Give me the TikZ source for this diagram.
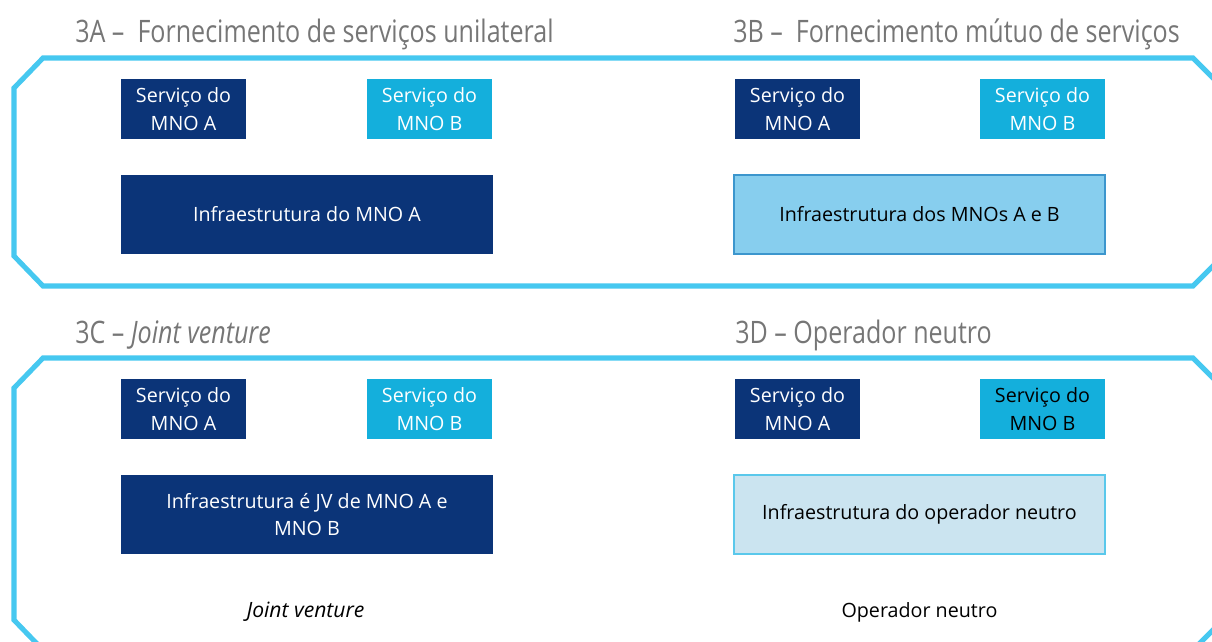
\documentclass[tikz,border=0pt]{standalone}
\usepackage{fontspec}
\setmainfont{Open Sans}
\newfontfamily\titlefont[FakeStretch=0.81]{Open Sans}
\usetikzlibrary{positioning}
\definecolor{mnoNavy}{RGB}{11,52,120}
\definecolor{mnoCyan}{RGB}{20,175,220}
\definecolor{frameBlue}{RGB}{70,200,240}
\definecolor{infraMid}{RGB}{135,206,238}
\definecolor{infraMidLine}{RGB}{60,150,205}
\definecolor{infraPale}{RGB}{203,228,240}
\definecolor{infraPaleLine}{RGB}{90,200,235}
\definecolor{titleGray}{RGB}{118,118,118}

\begin{document}
\begin{tikzpicture}[x=0.025cm, y=-0.025cm]
      \tikzstyle{every node} = [inner sep=0pt, font=\fontsize{14}{19.8}\selectfont];
      \tikzstyle{svc} = [minimum width=3.125cm, minimum height=1.5cm, align=center];
      \tikzstyle{svcA} = [svc, fill=mnoNavy, text=white];
      \tikzstyle{svcB} = [svc, fill=mnoCyan, text=white];
      \tikzstyle{infra} = [minimum width=9.275cm, minimum height=1.975cm, align=center];
      \tikzstyle{panel} = [draw=frameBlue, line width=3.6pt, line join=miter];
      \tikzstyle{heading} = [anchor=base west, text=titleGray, font=\titlefont\fontsize{22}{26}\selectfont];
      \useasboundingbox (0,0) rectangle (1212,641);
      \clip (0,0) rectangle (1212,641);
      \draw[panel] (43,58) -- (1193,58) -- (1223,88) -- (1223,256) -- (1193,286)
        -- (43,286) -- (14,256) -- (14,88) -- cycle;
      \draw[panel] (43,358) -- (1193,358) -- (1223,388) -- (1223,620) -- (1193,650)
        -- (43,650) -- (14,620) -- (14,388) -- cycle;
      \node[heading] (h3A) at (75,42) {3A –\ \ Fornecimento de serviços unilateral};
      \node[heading] (h3B) at (733,42) {3B –\ \ Fornecimento mútuo de serviços};
      \node[heading] (h3C) at (75,343) {3C – \textit{Joint venture}};
      \node[heading] (h3D) at (735,343) {3D – Operador neutro};
      \foreach \p/\x/\y in {a/183.5/109, b/797.5/109, c/183.5/409, d/797.5/409}{
        \node[svcA] (svcA\p) at (\x,\y) {Serviço do\\MNO A};
      }
      \foreach \p/\x/\y in {a/429.5/109, b/1042.5/109, c/429.5/409}{
        \node[svcB] (svcB\p) at (\x,\y) {Serviço do\\MNO B};
      }
      \node[svcB, text=black] (svcBd) at (1042.5,409) {Serviço do\\MNO B};
      \node[infra, fill=mnoNavy, text=white] (infraA) at (307,214.5) {Infraestrutura do MNO A};
      \node[infra, fill=infraMid, draw=infraMidLine, line width=0.8pt] (infraAB) at (919.5,214.5) {Infraestrutura dos MNOs A e B};
      \node[infra, fill=mnoNavy, text=white] (infraJV) at (307,514.5) {Infraestrutura é JV de MNO A e\\MNO B};
      \node[infra, fill=infraPale, draw=infraPaleLine, line width=0.8pt] (infraNeutro) at (919.5,514.5) {Infraestrutura do operador neutro};
      \node[anchor=base, font=\fontsize{15}{19.8}\selectfont] (lblJV) at (305.5,617) {\itshape Joint venture};
      \node[anchor=base] (lblNeutro) at (919.5,617) {Operador neutro};
\end{tikzpicture}
\end{document}
